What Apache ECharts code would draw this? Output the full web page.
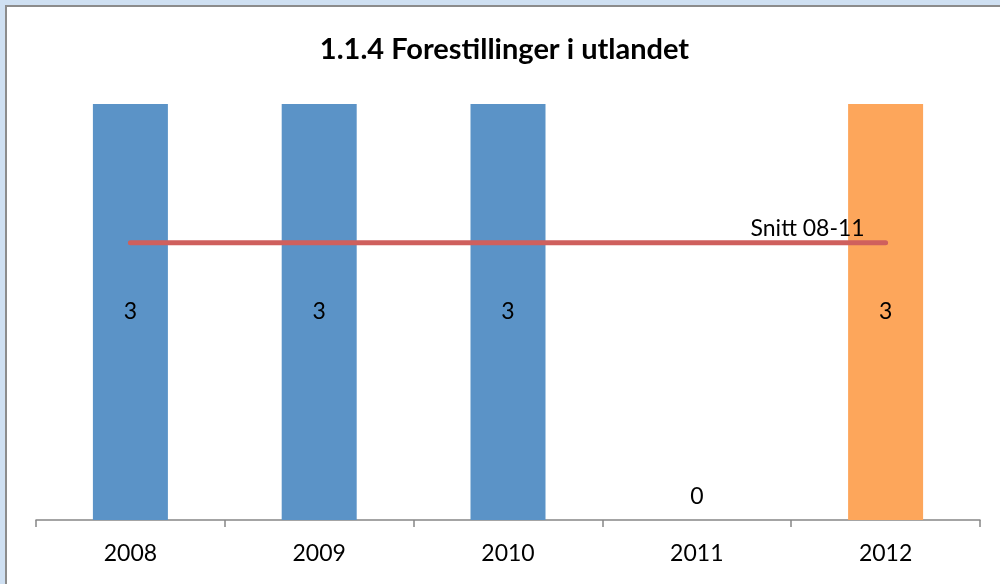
<!DOCTYPE html>
<html>
	<head>
		<meta charset="utf-8">
		<title>1.1.4 Forestillinger i utlandet</title>
		<script src="https://cdn.jsdelivr.net/npm/echarts@6/dist/echarts.min.js"></script>
		<style>
			html, body { margin: 0; padding: 0; background: #cfe0f2; }
			#myChart {
				position: absolute; left: 5px; top: 5px;
				width: 995px; height: 579px;
				background: #fff;
				border-top: 2px solid #8c8c8c;
				border-left: 2px solid #8c8c8c;
			}
		</style>
	</head>
	<body>
		<div id="myChart"></div>
	<script type="text/javascript">
		var years = ['2008', '2009', '2010', '2011', '2012'];
		var shows = [3, 3, 3, 0, 3];
		var snitt = [2, 2, 2, 2, 2];
		var snittLabel = 'Snitt 08-11';

		var font = 'Lato, "Liberation Sans", sans-serif';
		var chartDom = document.getElementById('myChart');
		var myChart = echarts.init(chartDom);

		var barData = shows.map(function (v, i) {
			var item = { value: v };
			if (years[i] === '2012') {
				item.itemStyle = { color: '#fda65b' };
			}
			if (v === 0) {
				item.label = { position: 'top', distance: 12 };
			}
			return item;
		});

		var lineData = snitt.map(function (v, i) {
			var item = { value: v };
			if (i === snitt.length - 1) {
				item.label = {
					show: true,
					position: 'top',
					distance: 3,
					offset: [-78, 0],
					formatter: snittLabel,
					color: '#000',
					fontSize: 23,
					fontFamily: font
				};
			}
			return item;
		});

		var option = {
			animation: false,
			title: {
				text: '1.1.4 Forestillinger i utlandet',
				left: 'center',
				top: 23,
				textStyle: { fontFamily: font, fontSize: 29, fontWeight: 'bold', color: '#000' }
			},
			grid: { left: 29, top: 97, width: 944, height: 416 },
			xAxis: {
				type: 'category',
				data: years,
				axisLine: { lineStyle: { color: '#878787', width: 1.5 } },
				axisTick: { show: true, length: 7, lineStyle: { color: '#878787', width: 1.5 } },
				axisLabel: { color: '#000', fontSize: 23, fontFamily: font, margin: 22 }
			},
			yAxis: {
				type: 'value',
				min: 0,
				max: 3,
				show: false,
				splitLine: { show: false }
			},
			series: [
				{
					type: 'bar',
					data: barData,
					barWidth: 75,
					itemStyle: { color: '#5b93c7' },
					label: {
						show: true,
						position: 'inside',
						color: '#000',
						fontSize: 23,
						fontFamily: font
					}
				},
				{
					type: 'line',
					data: lineData,
					symbol: 'circle',
					symbolSize: 0,
					showSymbol: true,
					lineStyle: { color: '#cf605d', width: 5, cap: 'round' },
					itemStyle: { color: '#cf605d' },
					z: 5
				}
			]
		};
		myChart.setOption(option);
	</script>
	</body>
</html>
